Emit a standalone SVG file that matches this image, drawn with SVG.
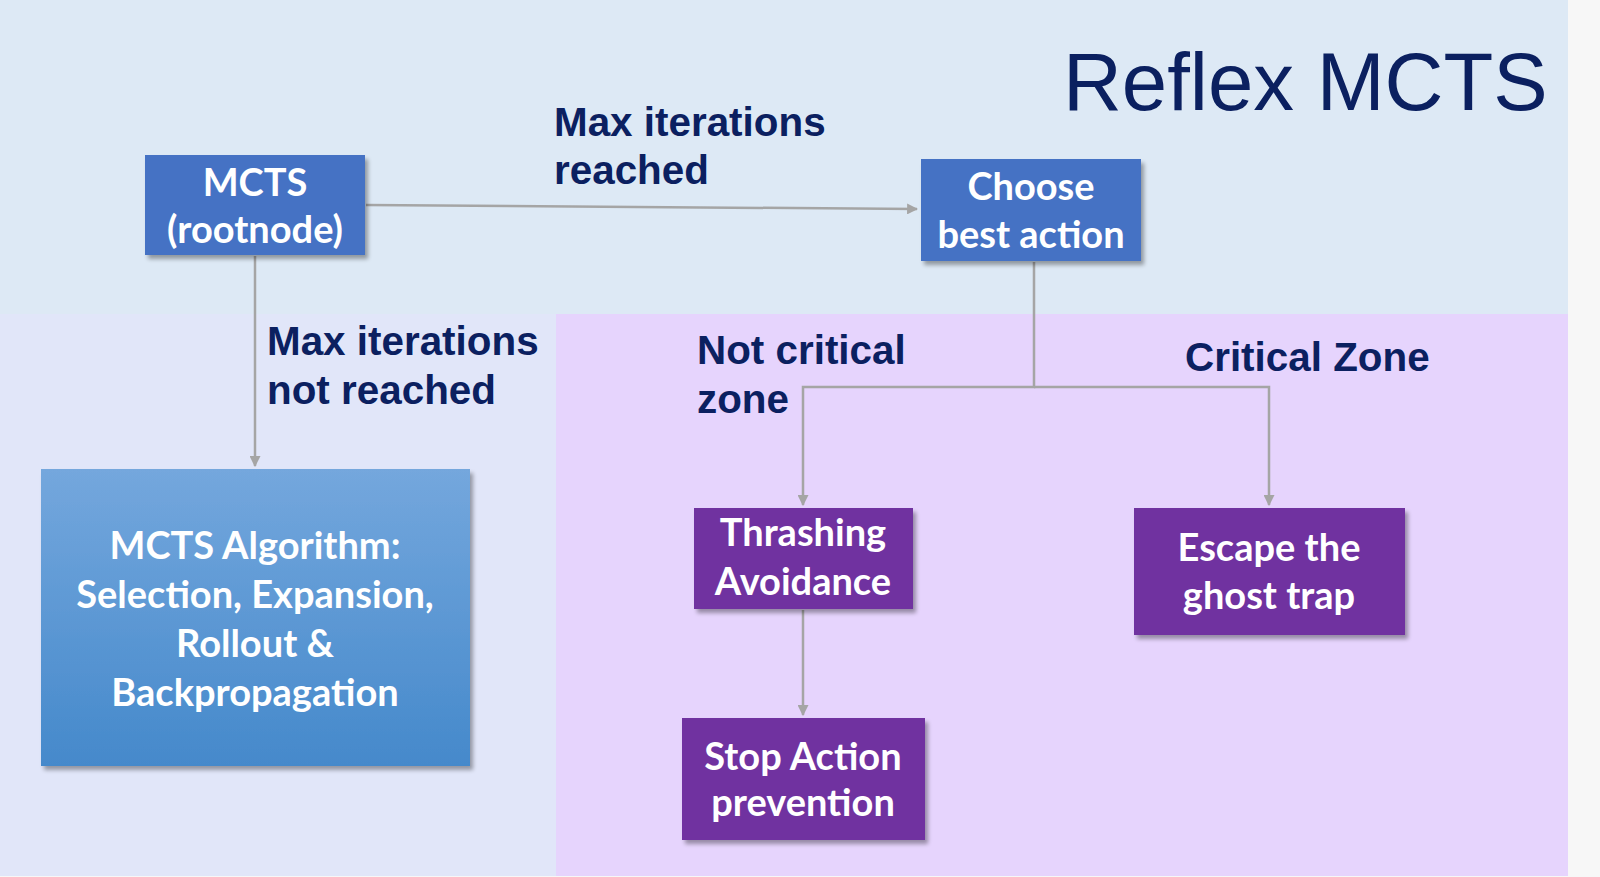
<svg xmlns="http://www.w3.org/2000/svg" width="1600" height="877" viewBox="0 0 1600 877">
<defs>
<linearGradient id="algGrad" x1="0" y1="0" x2="0" y2="1">
<stop offset="0" stop-color="#74a7dd"/>
<stop offset="1" stop-color="#4589cb"/>
</linearGradient>
<filter id="shadow" x="-10%" y="-10%" width="125%" height="130%">
<feGaussianBlur in="SourceAlpha" stdDeviation="2"/>
<feOffset dx="3" dy="4" result="b"/>
<feComponentTransfer><feFuncA type="linear" slope="0.35"/></feComponentTransfer>
<feMerge><feMergeNode/><feMergeNode in="SourceGraphic"/></feMerge>
</filter>
<marker id="arrow" viewBox="0 0 10 10" refX="9" refY="5" markerWidth="4.4" markerHeight="4.4" orient="auto" markerUnits="strokeWidth">
<path d="M0,0 L10,5 L0,10 z" fill="#a5a5a5"/>
</marker>
</defs>
<style>
.box-blue{fill:#4472c4;filter:url(#shadow)}
.box-purple{fill:#7030a0;filter:url(#shadow)}
.box-alg{fill:url(#algGrad);filter:url(#shadow)}
.nt{font-family:Lato,"Open Sans","Liberation Sans",sans-serif;font-weight:bold;font-size:38px;fill:#ffffff;text-anchor:middle}
.lbl{font-family:"Liberation Sans",Arial,sans-serif;font-weight:bold;font-size:40.4px;fill:#0b2060}
.conn{fill:none;stroke:#a5a5a5;stroke-width:2.5}
</style>
<g id="background">
<rect x="0" y="0" width="1600" height="877" fill="#f7f7f7"/>
<rect x="0" y="0" width="1568" height="314" fill="#dde9f5"/>
<rect x="0" y="314" width="556" height="562" fill="#e1e6f9"/>
<rect x="556" y="314" width="1012" height="562" fill="#e6d4fd"/>
</g>
<text id="title" x="1063" y="110" font-family="'Liberation Sans',Arial,sans-serif" font-size="81.5" fill="#0b2060">Reflex MCTS</text>
<g id="connectors">
<path class="conn" d="M366,205 L917,209" marker-end="url(#arrow)"/>
<path class="conn" d="M255,256 L255,466" marker-end="url(#arrow)"/>
<path class="conn" d="M1034,262 L1034,387 L803,387 L803,505" marker-end="url(#arrow)"/>
<path class="conn" d="M1034,387 L1269,387 L1269,505" marker-end="url(#arrow)"/>
<path class="conn" d="M803,610 L803,715" marker-end="url(#arrow)"/>
</g>
<g id="labels">
<text class="lbl" x="554" y="136">Max iterations</text>
<text class="lbl" x="554" y="184">reached</text>
<text class="lbl" x="267" y="355">Max iterations</text>
<text class="lbl" x="267" y="404">not reached</text>
<text class="lbl" x="697" y="364">Not critical</text>
<text class="lbl" x="697" y="413">zone</text>
<text class="lbl" x="1185" y="371">Critical Zone</text>
</g>
<g id="node-mcts">
<rect class="box-blue" x="145" y="155" width="220" height="100"/>
<text class="nt" x="255" y="196">MCTS</text>
<text class="nt" x="255" y="243">(rootnode)</text>
</g>
<g id="node-choose">
<rect class="box-blue" x="921" y="159" width="220" height="102"/>
<text class="nt" x="1031" y="200">Choose</text>
<text class="nt" x="1031" y="248">best action</text>
</g>
<g id="node-algorithm">
<rect class="box-alg" x="41" y="469" width="429" height="297"/>
<text class="nt" x="255" y="559">MCTS Algorithm:</text>
<text class="nt" x="255" y="608">Selection, Expansion,</text>
<text class="nt" x="255" y="657">Rollout &amp;</text>
<text class="nt" x="255" y="706">Backpropagation</text>
</g>
<g id="node-thrashing">
<rect class="box-purple" x="694" y="508" width="219" height="101"/>
<text class="nt" x="803" y="546">Thrashing</text>
<text class="nt" x="803" y="595">Avoidance</text>
</g>
<g id="node-escape">
<rect class="box-purple" x="1134" y="508" width="271" height="127"/>
<text class="nt" x="1269" y="561">Escape the</text>
<text class="nt" x="1269" y="609">ghost trap</text>
</g>
<g id="node-stop">
<rect class="box-purple" x="682" y="718" width="243" height="122"/>
<text class="nt" x="803" y="770">Stop Action</text>
<text class="nt" x="803" y="816">prevention</text>
</g>
</svg>
